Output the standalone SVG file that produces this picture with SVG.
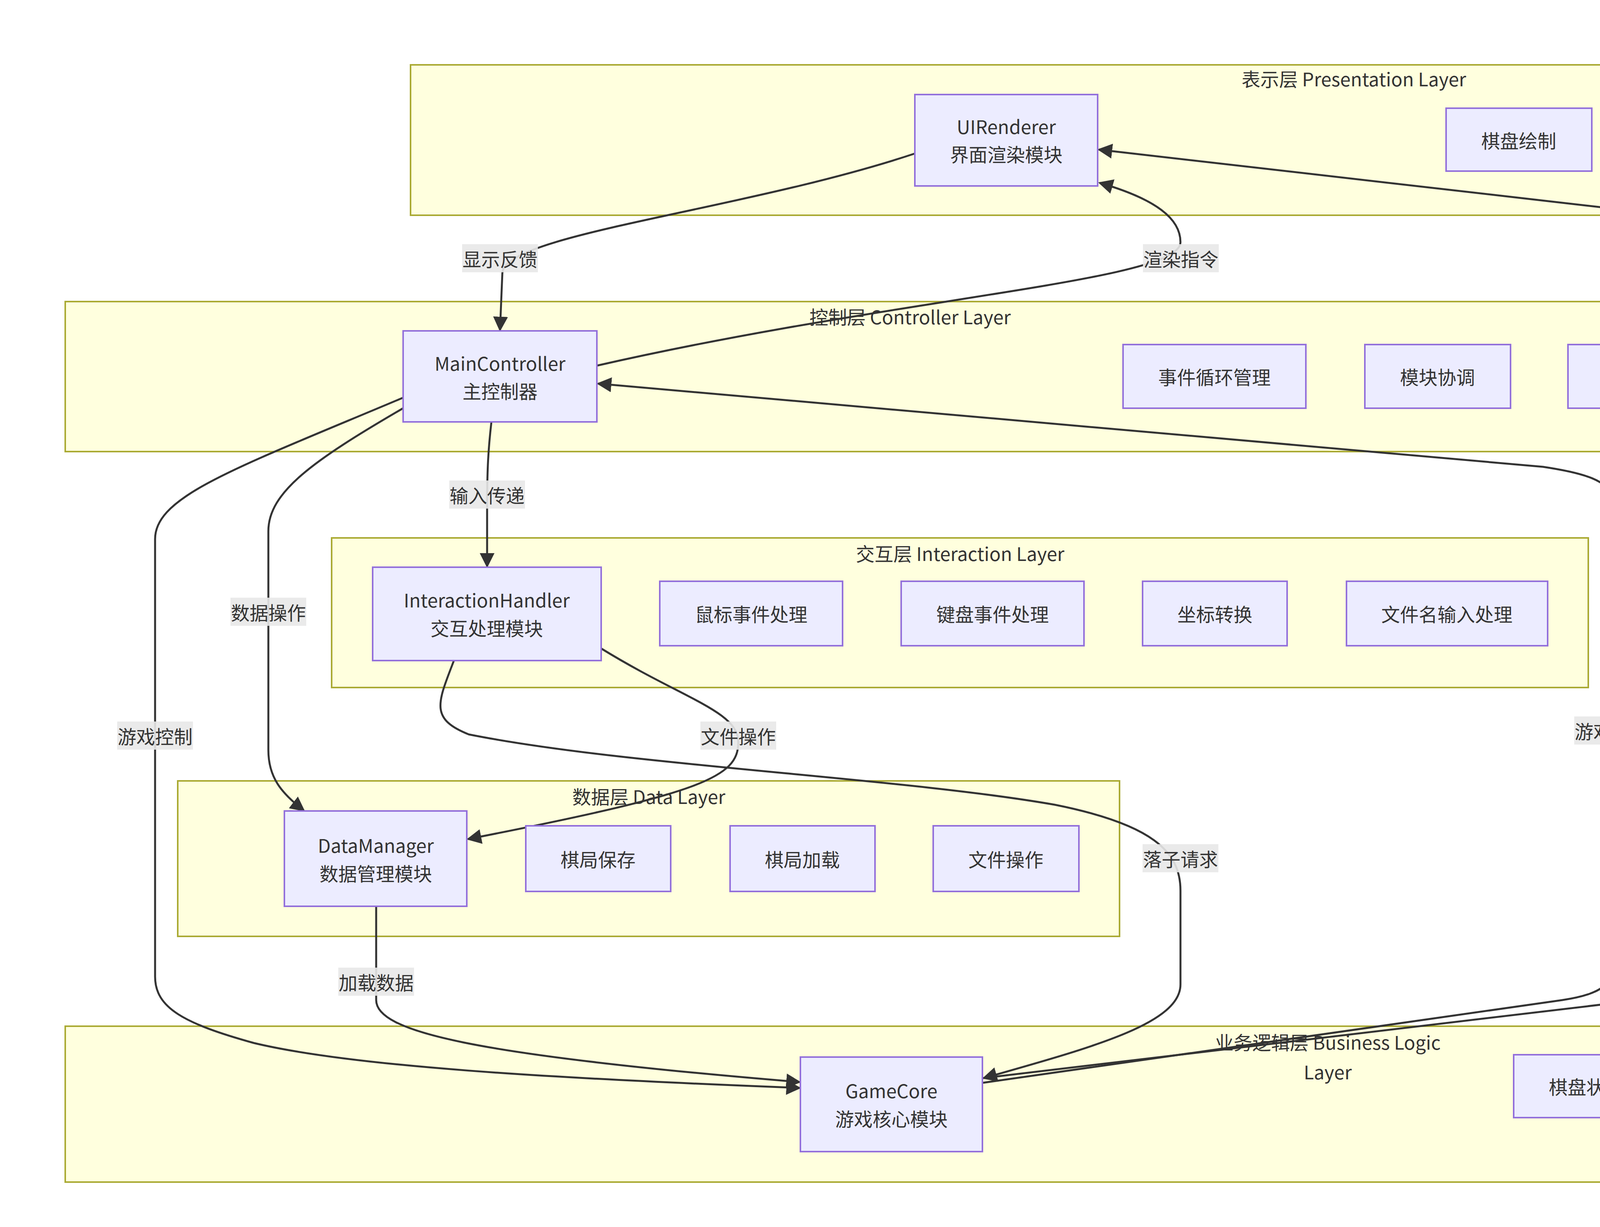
<svg xmlns="http://www.w3.org/2000/svg" width="6798" height="3141" viewBox="0 0 6798 3141">
<style>
.cl{fill:#ffffde;stroke:#aaaa33;stroke-width:4}
.nd{fill:#ececff;stroke:#9370db;stroke-width:4}
text{font-family:"Noto Sans CJK SC","Liberation Sans",sans-serif;font-size:48px;fill:#333;text-anchor:middle;dominant-baseline:central}
.e{fill:none;stroke:#333;stroke-width:5}
.lb{fill:#e8e8e8;opacity:0.9}
</style>
<defs><marker id="b" viewBox="0 0 10 10" refX="9" refY="5" markerWidth="38" markerHeight="38" markerUnits="userSpaceOnUse" orient="auto"><path d="M0,0L10,5L0,10z" fill="#333"/></marker></defs>
<rect width="6798" height="3141" fill="#fff"/>
<g id="layer-presentation"><rect class="cl" x="1051" y="166" width="4832" height="385"/><text x="3466" y="200">表示层 Presentation Layer</text></g>
<g id="layer-controller"><rect class="cl" x="167" y="772" width="4324" height="384"/><text x="2330" y="809">控制层 Controller Layer</text></g>
<g id="layer-interaction"><rect class="cl" x="849" y="1377" width="3217" height="383"/><text x="2458" y="1415">交互层 Interaction Layer</text></g>
<g id="layer-data"><rect class="cl" x="455" y="1999" width="2411" height="398"/><text x="1661" y="2037">数据层 Data Layer</text></g>
<g id="layer-business"><rect class="cl" x="167" y="2627" width="6466" height="399"/><text x="3399" y="2666">业务逻辑层 Business Logic</text><text x="3399" y="2742">Layer</text></g>
<g id="edges">
<path class="e" marker-end="url(#b)" d="M2342,393 C1900,540 1286,600 1286,700 L1280,845"/>
<path class="e" marker-end="url(#b)" d="M1528,936 C2300,760 3022,720 3022,620 C3022,560 2960,510 2815,468"/>
<path class="e" marker-end="url(#b)" d="M2515,2760 L4450,2530 C4540,2518 4569,2500 4569,2450 L4569,660 C4569,600 4500,580 4400,565 L2813,383"/>
<path class="e" marker-end="url(#b)" d="M2515,2772 L4000,2560 C4100,2545 4127,2520 4127,2470 L4127,1280 C4127,1230 4050,1210 3950,1195 L1531,982"/>
<path class="e" marker-end="url(#b)" d="M1032,1018 C600,1200 397,1270 397,1380 L397,2500 C397,2580 470,2620 650,2670 C900,2730 1400,2760 2047,2785"/>
<path class="e" marker-end="url(#b)" d="M1032,1045 C800,1180 687,1260 687,1360 L687,1920 C687,1990 720,2030 778,2075"/>
<path class="e" marker-end="url(#b)" d="M1258,1080 C1250,1150 1247,1200 1247,1300 L1247,1450"/>
<path class="e" marker-end="url(#b)" d="M1539,1660 C1750,1790 1890,1820 1890,1900 C1890,1990 1800,2030 1198,2148"/>
<path class="e" marker-end="url(#b)" d="M1162,1691 C1120,1800 1100,1840 1200,1880 C1600,1960 2300,1990 2700,2060 C2950,2110 3022,2180 3022,2280 L3022,2520 C3022,2620 2800,2680 2518,2760"/>
<path class="e" marker-end="url(#b)" d="M963,2320 L963,2560 C963,2640 1200,2700 2047,2770"/>
<rect class="lb" x="1183" y="625" width="194" height="72"/><text x="1280" y="661">显示反馈</text>
<rect class="lb" x="2926" y="625" width="194" height="72"/><text x="3023" y="661">渲染指令</text>
<rect class="lb" x="4472" y="1529" width="194" height="72"/><text x="4569" y="1565">状态更新</text>
<rect class="lb" x="4030" y="1834" width="194" height="72"/><text x="4127" y="1870">游戏状态</text>
<rect class="lb" x="300" y="1847" width="194" height="72"/><text x="397" y="1883">游戏控制</text>
<rect class="lb" x="590" y="1530" width="194" height="72"/><text x="687" y="1566">数据操作</text>
<rect class="lb" x="1150" y="1230" width="194" height="72"/><text x="1247" y="1266">输入传递</text>
<rect class="lb" x="1793" y="1847" width="194" height="72"/><text x="1890" y="1883">文件操作</text>
<rect class="lb" x="2925" y="2161" width="194" height="72"/><text x="3022" y="2197">落子请求</text>
<rect class="lb" x="866" y="2477" width="194" height="72"/><text x="963" y="2513">加载数据</text>
</g>
<g id="UIRenderer"><rect class="nd" x="2342" y="242" width="468" height="234"/><text x="2576" y="322">UIRenderer</text><text x="2576" y="393">界面渲染模块</text></g>
<g id="p1"><rect class="nd" x="3702" y="277" width="373" height="161"/><text x="3888" y="358">棋盘绘制</text></g>
<g id="p2"><rect class="nd" x="4222" y="277" width="373" height="161"/><text x="4408" y="358">棋子渲染</text></g>
<g id="p3"><rect class="nd" x="4743" y="277" width="416" height="161"/><text x="4951" y="358">UI元素绘制</text></g>
<g id="p4"><rect class="nd" x="5310" y="277" width="469" height="161"/><text x="5544" y="358">状态信息显示</text></g>
<g id="MainController"><rect class="nd" x="1032" y="847" width="496" height="233"/><text x="1280" y="928">MainController</text><text x="1280" y="999">主控制器</text></g>
<g id="c1"><rect class="nd" x="2875" y="882" width="468" height="163"/><text x="3109" y="963">事件循环管理</text></g>
<g id="c2"><rect class="nd" x="3494" y="882" width="373" height="163"/><text x="3680" y="963">模块协调</text></g>
<g id="c3"><rect class="nd" x="4014" y="882" width="373" height="163"/><text x="4200" y="963">状态切换</text></g>
<g id="InteractionHandler"><rect class="nd" x="954" y="1452" width="585" height="239"/><text x="1246" y="1534">InteractionHandler</text><text x="1246" y="1606">交互处理模块</text></g>
<g id="i1"><rect class="nd" x="1689" y="1488" width="468" height="165"/><text x="1923" y="1570">鼠标事件处理</text></g>
<g id="i2"><rect class="nd" x="2307" y="1488" width="468" height="165"/><text x="2541" y="1570">键盘事件处理</text></g>
<g id="i3"><rect class="nd" x="2925" y="1488" width="370" height="165"/><text x="3110" y="1570">坐标转换</text></g>
<g id="i4"><rect class="nd" x="3447" y="1488" width="515" height="165"/><text x="3704" y="1570">文件名输入处理</text></g>
<g id="DataManager"><rect class="nd" x="728" y="2076" width="467" height="244"/><text x="962" y="2162">DataManager</text><text x="962" y="2234">数据管理模块</text></g>
<g id="d1"><rect class="nd" x="1346" y="2114" width="371" height="168"/><text x="1531" y="2198">棋局保存</text></g>
<g id="d2"><rect class="nd" x="1869" y="2114" width="371" height="168"/><text x="2054" y="2198">棋局加载</text></g>
<g id="d3"><rect class="nd" x="2389" y="2114" width="373" height="168"/><text x="2575" y="2198">文件操作</text></g>
<g id="GameCore"><rect class="nd" x="2049" y="2706" width="466" height="242"/><text x="2282" y="2790">GameCore</text><text x="2282" y="2862">游戏核心模块</text></g>
<g id="b1"><rect class="nd" x="3875" y="2700" width="469" height="161"/><text x="4109" y="2780">棋盘状态管理</text></g>
<g id="b2"><rect class="nd" x="4491" y="2700" width="373" height="161"/><text x="4677" y="2780">落子验证</text></g>
<g id="b3"><rect class="nd" x="5011" y="2700" width="373" height="161"/><text x="5197" y="2780">胜负判定</text></g>
<g id="b4"><rect class="nd" x="5536" y="2700" width="468" height="161"/><text x="5770" y="2780">游戏流程控制</text></g>
<g id="b5"><rect class="nd" x="6151" y="2700" width="373" height="161"/><text x="6337" y="2780">悔棋管理</text></g>
</svg>
